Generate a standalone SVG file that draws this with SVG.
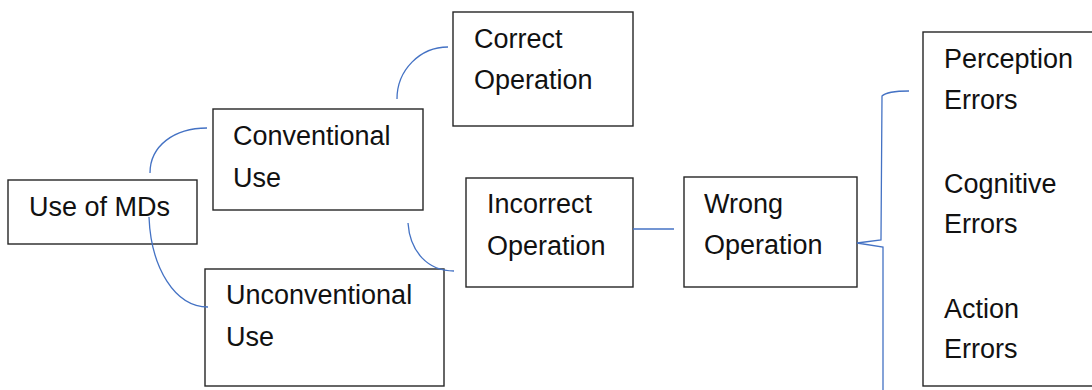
<svg xmlns="http://www.w3.org/2000/svg" width="1092" height="390" viewBox="0 0 1092 390">
<style>
.box{fill:#fff;stroke:#262626;stroke-width:1.4}
.t{font-family:"Liberation Sans",Arial,sans-serif;font-size:27px;fill:#111}
.c{fill:none;stroke:#4472C4;stroke-width:1.3}
</style>
<rect width="1092" height="390" fill="#fff"/>
<g id="use-of-mds"><rect class="box" x="8" y="180" width="189" height="64"/><text class="t" x="29" y="216">Use of MDs</text></g>
<g id="conventional-use"><rect class="box" x="213" y="109" width="210" height="101"/><text class="t" x="233" y="145">Conventional</text><text class="t" x="233" y="187">Use</text></g>
<g id="unconventional-use"><rect class="box" x="205" y="269" width="239" height="117"/><text class="t" x="226" y="304">Unconventional</text><text class="t" x="226" y="346">Use</text></g>
<g id="correct-operation"><rect class="box" x="453" y="12" width="180" height="114"/><text class="t" x="474" y="48">Correct</text><text class="t" x="474" y="89">Operation</text></g>
<g id="incorrect-operation"><rect class="box" x="466" y="178" width="167" height="109"/><text class="t" x="487" y="213">Incorrect</text><text class="t" x="487" y="255">Operation</text></g>
<g id="wrong-operation"><rect class="box" x="684" y="177" width="173" height="110"/><text class="t" x="704" y="213">Wrong</text><text class="t" x="704" y="254">Operation</text></g>
<g id="errors"><rect class="box" x="923" y="32" width="175" height="354"/><text class="t" x="944" y="68">Perception</text><text class="t" x="944" y="109">Errors</text><text class="t" x="944" y="193">Cognitive</text><text class="t" x="944" y="233">Errors</text><text class="t" x="944" y="318">Action</text><text class="t" x="944" y="358">Errors</text></g>
<g id="connectors">
<path class="c" d="M150,173 C150,146 174,128 207,128"/>
<path class="c" d="M149,217 C151,268 175,307 208,307"/>
<path class="c" d="M397,99 C397,70 420,47 448,47"/>
<path class="c" d="M408,223 C410,252 428,271 454,271"/>
<path class="c" d="M633,229 L674,229"/>
<path class="c" d="M909,91 C896,91 886,92 882,96 L881,240 L857,243 L883,247 L883,392"/>
</g>
</svg>
